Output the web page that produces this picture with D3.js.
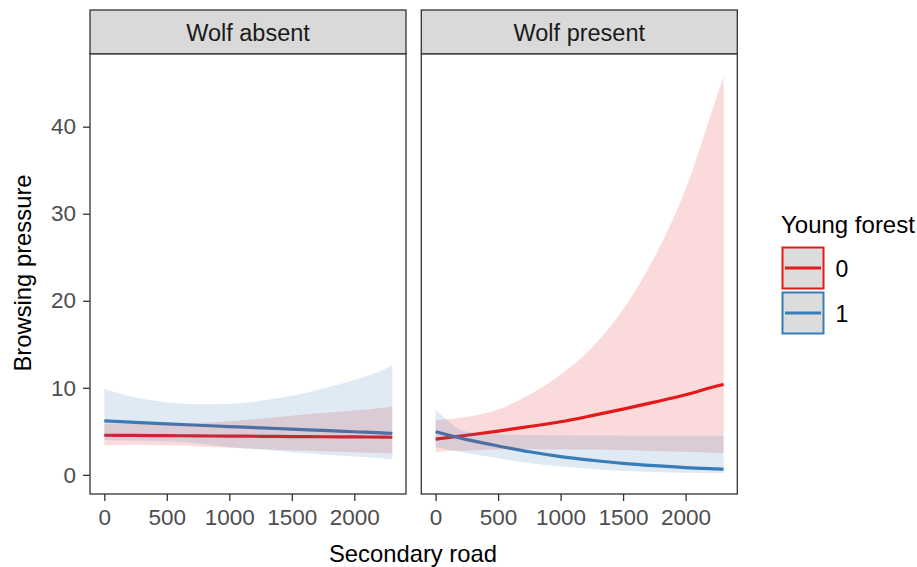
<!DOCTYPE html>
<html><head><meta charset="utf-8">
<script src="https://cdn.jsdelivr.net/npm/d3@7"></script>
<style>body{margin:0;background:#fff}svg{display:block}text{font-family:"Liberation Sans",Arial,sans-serif}</style>
</head><body>
<svg id="c" width="917" height="567"></svg>
<script>
// ---------- data ----------
const panels = ["Wolf absent", "Wolf present"];
const groups = ["0", "1"];
const roadX = [0, 250, 500, 750, 1000, 1250, 1500, 1750, 2000, 2250, 2304];
const yTicks = [0, 10, 20, 30, 40];
const xTicks = [0, 500, 1000, 1500, 2000];

// Wolf absent, young forest 0
const absent0Fit   = [4.55, 4.53, 4.50, 4.48, 4.45, 4.43, 4.40, 4.38, 4.36, 4.33, 4.32];
const absent0Lower = [3.40, 3.45, 3.40, 3.30, 3.12, 2.97, 2.82, 2.70, 2.60, 2.47, 2.45];
const absent0Upper = [5.90, 5.85, 5.85, 5.95, 6.15, 6.45, 6.80, 7.10, 7.40, 7.75, 7.85];
// Wolf absent, young forest 1
const absent1Fit   = [6.20, 6.03, 5.86, 5.70, 5.55, 5.40, 5.25, 5.10, 4.95, 4.80, 4.75];
const absent1Lower = [4.00, 3.95, 3.85, 3.60, 3.20, 2.90, 2.60, 2.35, 2.10, 1.85, 1.80];
const absent1Upper = [9.85, 8.90, 8.35, 8.10, 8.15, 8.50, 9.10, 9.90, 10.90, 12.20, 12.60];
// Wolf present, young forest 0
const present0Fit   = [4.10, 4.55, 5.02, 5.55, 6.10, 6.80, 7.55, 8.35, 9.20, 10.20, 10.40];
const present0Lower = [2.65, 2.80, 2.90, 2.95, 2.95, 2.90, 2.85, 2.75, 2.65, 2.52, 2.50];
const present0Upper = [6.30, 6.65, 7.50, 9.20, 11.50, 14.60, 19.00, 25.00, 32.80, 43.50, 45.80];
// Wolf present, young forest 1
const present1Fit   = [4.95, 4.05, 3.32, 2.65, 2.10, 1.68, 1.32, 1.05, 0.83, 0.68, 0.65];
const present1Lower = [3.20, 2.50, 1.90, 1.35, 0.95, 0.68, 0.45, 0.33, 0.25, 0.20, 0.18];
const present1Upper = [7.50, 4.95, 4.65, 4.58, 4.55, 4.52, 4.50, 4.50, 4.50, 4.50, 4.50];

const series = [
  {panel: 0, group: 0, fit: absent0Fit,  lo: absent0Lower,  hi: absent0Upper},
  {panel: 0, group: 1, fit: absent1Fit,  lo: absent1Lower,  hi: absent1Upper},
  {panel: 1, group: 0, fit: present0Fit, lo: present0Lower, hi: present0Upper},
  {panel: 1, group: 1, fit: present1Fit, lo: present1Lower, hi: present1Upper},
];

// ---------- layout ----------
const colors = ["#E41A1C", "#377EB8"];
const FONT = '"Liberation Sans", Arial, sans-serif';
const svg = d3.select("#c");
const panelX = [[90, 406], [421.3, 737.3]];
const pTop = 54, pBottom = 494, stripTop = 10;

const y = d3.scaleLinear().domain([-2.2, 48.35]).range([pBottom, pTop]);
const xScales = panelX.map(r => d3.scaleLinear().domain([-114.4, 2413.6]).range(r));

panels.forEach((name, i) => {
  const [x0, x1] = panelX[i];
  const g = svg.append("g");
  g.append("rect").attr("x", x0).attr("y", stripTop).attr("width", x1 - x0).attr("height", pTop - stripTop)
    .attr("fill", "#D9D9D9").attr("stroke", "#333333").attr("stroke-width", 1.3);
  g.append("text").attr("x", (x0 + x1) / 2).attr("y", 40.5).attr("text-anchor", "middle")
    .attr("font-size", 23.5).attr("fill", "#1A1A1A").text(name);
  g.append("rect").attr("x", x0).attr("y", pTop).attr("width", x1 - x0).attr("height", pBottom - pTop).attr("fill", "#fff");
});

// data layers: lines first, ribbons on top
const line = (xs) => d3.line().x((d, i) => xs(roadX[i])).y(d => y(d)).curve(d3.curveMonotoneX);
const area = (xs, lo) => d3.area().x((d, i) => xs(roadX[i])).y0((d, i) => y(lo[i])).y1(d => y(d)).curve(d3.curveMonotoneX);

series.forEach(s => {
  svg.append("path").datum(s.fit).attr("d", line(xScales[s.panel]))
    .attr("fill", "none").attr("stroke", colors[s.group]).attr("stroke-width", 3.2);
});
series.forEach(s => {
  svg.append("path").datum(s.hi).attr("d", area(xScales[s.panel], s.lo))
    .attr("fill", colors[s.group]).attr("fill-opacity", 0.16).attr("stroke", "none");
});

panels.forEach((name, i) => {
  const [x0, x1] = panelX[i];
  svg.append("rect").attr("x", x0).attr("y", pTop).attr("width", x1 - x0).attr("height", pBottom - pTop)
    .attr("fill", "none").attr("stroke", "#333333").attr("stroke-width", 1.3);
  const xa = svg.append("g").attr("transform", `translate(0,${pBottom})`)
    .call(d3.axisBottom(xScales[i]).tickValues(xTicks).tickSize(7).tickPadding(8).tickFormat(d3.format("d")));
  xa.select(".domain").remove();
  xa.selectAll("line").attr("stroke", "#333333").attr("stroke-width", 1.3);
  xa.selectAll("text").attr("font-size", 22.5).attr("fill", "#4D4D4D").attr("font-family", FONT);
});

const ya = svg.append("g").attr("transform", `translate(${panelX[0][0]},0)`)
  .call(d3.axisLeft(y).tickValues(yTicks).tickSize(7).tickPadding(7));
ya.select(".domain").remove();
ya.selectAll("line").attr("stroke", "#333333").attr("stroke-width", 1.3);
ya.selectAll("text").attr("font-size", 22.5).attr("fill", "#4D4D4D").attr("font-family", FONT);

// axis titles
svg.append("text").attr("x", 413).attr("y", 561.5).attr("text-anchor", "middle")
  .attr("font-size", 23.8).attr("fill", "#000").text("Secondary road");
svg.append("text").attr("transform", "translate(31,273) rotate(-90)").attr("text-anchor", "middle")
  .attr("font-size", 23.8).attr("fill", "#000").text("Browsing pressure");

// legend
const lg = svg.append("g");
lg.append("text").attr("x", 781).attr("y", 233).attr("font-size", 24).attr("fill", "#000").text("Young forest");
groups.forEach((gName, i) => {
  const ky = 247.5 + i * 45;
  lg.append("rect").attr("x", 782.5).attr("y", ky).attr("width", 41).attr("height", 41)
    .attr("fill", "#DCDCDC").attr("stroke", colors[i]).attr("stroke-width", 2);
  lg.append("line").attr("x1", 785).attr("x2", 821).attr("y1", ky + 20.5).attr("y2", ky + 20.5)
    .attr("stroke", colors[i]).attr("stroke-width", 3.2);
  lg.append("text").attr("x", 835.5).attr("y", ky + 29).attr("font-size", 23).attr("fill", "#000").text(gName);
});
</script>
</body></html>
